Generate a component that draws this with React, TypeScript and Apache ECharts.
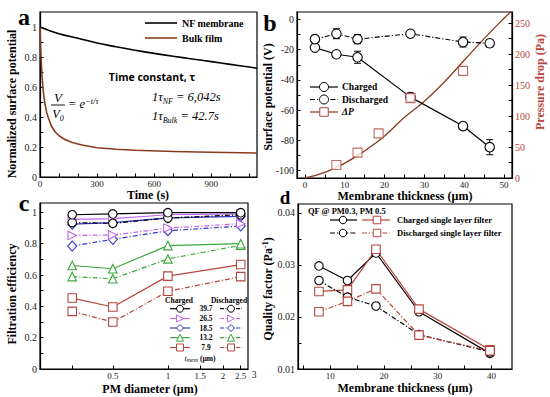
import React, { useEffect, useRef } from 'react';
import * as echarts from 'echarts';

const SERIF = '"Liberation Serif", "Times New Roman", serif';
const SANS = '"Open Sans", "Liberation Sans", sans-serif';
const BROWN = '#8b3a1e';
const RED = '#b8463c';
const DASHDOT = [5, 2, 1.2, 2];

// ---------- Panel a ----------
const nfTime = [0, 100, 200, 300, 400, 500, 600, 700, 800, 900, 1000, 1100, 1140];
const nfValue = [1.0, 0.955, 0.925, 0.893, 0.868, 0.845, 0.824, 0.805, 0.787, 0.769, 0.751, 0.733, 0.725];
const bulkTime = [0, 3, 6, 10, 15, 20, 27, 35, 45, 60, 80, 100, 130, 170, 220, 300, 400, 500, 700, 900, 1140];
const bulkValue = [1.0, 0.88, 0.79, 0.69, 0.6, 0.54, 0.48, 0.43, 0.39, 0.34, 0.3, 0.275, 0.25, 0.23, 0.213, 0.195, 0.185, 0.178, 0.17, 0.165, 0.16];
const aXLabels = [0, 300, 600, 900];
const aYLabels = [0, 0.2, 0.4, 0.6, 0.8, 1];

// ---------- Panel b ----------
const bThickness = [2.5, 7.9, 13.2, 26.5, 39.7, 46.4];
const chargedV = [-18.6, -23, -25, -51.4, -70.6, -84.6];
const chargedErr = [1, 1.5, 4, 2.7, 1.8, 5];
const dischargedV = [-13, -9.4, -13, -9.4, -14.9, -15.7];
const dischargedErr = [2.2, 3.3, 3, 2, 3.3, 2.5];
const dpThickness = [7.9, 13.2, 18.5, 26.5, 39.7];
const dpValue = [21, 41, 72, 129, 173];
const dpFitX = [0, 5, 10, 15, 20, 25, 30, 35, 40, 45, 50, 52];
const dpFitY = [0, 9, 24, 44, 68, 98, 124, 155, 190, 225, 258, 270];
const bXLabels = [0, 10, 20, 30, 40, 50];
const bYLabels = [-100, -80, -60, -40, -20, 0];
const bY2Labels = [0, 50, 100, 150, 200, 250];

// ---------- Panel c ----------
const pmDiameter = [0.3, 0.5, 1, 2.5];
const cXLabels = [0.5, 1, 1.5, 2, 2.5];
const cYLabels = [0, 0.2, 0.4, 0.6, 0.8, 1];
const thicknessNames = ['39.7', '26.5', '18.5', '13.2', '7.9'];
const charged397 = [0.985, 0.99, 0.998, 0.998];
const discharged397 = [0.935, 0.93, 0.964, 0.985];
const charged265 = [0.955, 0.96, 0.985, 0.99];
const discharged265 = [0.853, 0.855, 0.9, 0.928];
const charged185 = [0.925, 0.935, 0.965, 0.975];
const discharged185 = [0.785, 0.828, 0.883, 0.913];
const charged132 = [0.661, 0.64, 0.788, 0.8];
const discharged132 = [0.59, 0.576, 0.703, 0.79];
const charged79 = [0.453, 0.396, 0.593, 0.667];
const discharged79 = [0.368, 0.3, 0.496, 0.59];

// ---------- Panel d ----------
const dThickness = [7.9, 13.2, 18.5, 26.5, 39.7];
const qfChargedPM03 = [0.0298, 0.027, 0.0323, 0.021, 0.013];
const qfChargedPM05 = [0.0249, 0.0252, 0.033, 0.0215, 0.0137];
const qfDischargedPM03 = [0.027, 0.0238, 0.0221, 0.0166, 0.0133];
const qfDischargedPM05 = [0.021, 0.023, 0.0254, 0.0165, 0.0135];
const dXLabels = [10, 20, 30, 40];
const dYLabels = [0.01, 0.02, 0.03, 0.04];

const cColors = ['#000000', '#c266f0', '#3535c8', '#3aa83a', RED];
const cSymbols = ['circle', 'triRight', 'diamond', 'triangle', 'rect'];

const range = (a: number, b: number, step: number) => {
  const out: number[] = [];
  for (let i = 0; a + i * step <= b + 1e-9; i++) out.push(+(a + i * step).toFixed(6));
  return out;
};

const mkAxis = (gridIndex: number, min: number, max: number, labels: number[], ticks: number[], label: any = {}, rest: any = {}) => ({
  type: 'value',
  gridIndex,
  min,
  max,
  axisLine: { show: true, onZero: false, lineStyle: { color: '#000', width: 1.2 } },
  axisTick: { show: true, inside: true, length: 3.5, customValues: ticks, lineStyle: { color: '#000', width: 1 } },
  axisLabel: { show: true, customValues: labels, fontFamily: SERIF, fontSize: 10, color: '#222', margin: 3, ...label },
  splitLine: { show: false },
  ...rest,
});

const errorBar = (params: any, api: any) => {
  const x = api.value(0);
  const p1 = api.coord([x, api.value(1)]);
  const p2 = api.coord([x, api.value(2)]);
  const w = 3.5;
  const st = { stroke: '#000', lineWidth: 1 };
  return {
    type: 'group',
    children: [
      { type: 'line', shape: { x1: p1[0], y1: p1[1], x2: p2[0], y2: p2[1] }, style: st },
      { type: 'line', shape: { x1: p1[0] - w, y1: p1[1], x2: p1[0] + w, y2: p1[1] }, style: st },
      { type: 'line', shape: { x1: p2[0] - w, y1: p2[1], x2: p2[0] + w, y2: p2[1] }, style: st },
    ],
  };
};

const symOf = (k: string) => (k === 'triRight' ? 'triangle' : k);
const rotOf = (k: string) => (k === 'triRight' ? -90 : 0);

const txt = (x: number, y: number, text: string, o: any = {}, rotation = 0) => ({
  type: 'text',
  x,
  y,
  rotation,
  style: {
    text,
    fontFamily: SERIF,
    fontSize: 12.5,
    fontWeight: 'bold',
    fill: '#000',
    align: 'center',
    verticalAlign: 'middle',
    ...o,
  },
});

const gLine = (x1: number, y1: number, x2: number, y2: number, color: string, dash?: number[], w = 1.2) => ({
  type: 'line',
  shape: { x1, y1, x2, y2 },
  style: { stroke: color, lineWidth: w, lineDash: dash || null },
});

const gMarker = (kind: string, cx: number, cy: number, s: number, color: string) => {
  const style = { fill: '#fff', stroke: color, lineWidth: 1 };
  const h = s / 2;
  switch (kind) {
    case 'circle':
      return { type: 'circle', shape: { cx, cy, r: h }, style };
    case 'rect':
      return { type: 'rect', shape: { x: cx - h, y: cy - h, width: s, height: s }, style };
    case 'diamond':
      return { type: 'polygon', shape: { points: [[cx, cy - h], [cx + h, cy], [cx, cy + h], [cx - h, cy]] }, style };
    case 'triangle':
      return { type: 'polygon', shape: { points: [[cx, cy - h], [cx + h, cy + h], [cx - h, cy + h]] }, style };
    default:
      return { type: 'polygon', shape: { points: [[cx + h, cy], [cx - h, cy - h], [cx - h, cy + h]] }, style };
  }
};

export default function App() {
  const ref = useRef<HTMLDivElement>(null);
  useEffect(() => {
    document.body.style.margin = '0';
    if (!ref.current) return;
    const chart = echarts.init(ref.current, undefined, { renderer: 'svg' });

    const gridStyle = { show: true, borderColor: '#000', borderWidth: 1.2, backgroundColor: 'transparent' };
    const lg10 = (v: number) => Math.log10(v);

    const cCharged = [charged397, charged265, charged185, charged132, charged79];
    const cDischarged = [discharged397, discharged265, discharged185, discharged132, discharged79];
    const cSeries: any[] = [];
    for (let k = 4; k >= 0; k--) {
      [cDischarged[k], cCharged[k]].forEach((vals, j) => {
        cSeries.push({
          name: (j === 1 ? 'Charged ' : 'Discharged ') + thicknessNames[k],
          type: 'line',
          xAxisIndex: 2,
          yAxisIndex: 3,
          data: pmDiameter.map((d, i) => [lg10(d), vals[i]]),
          symbol: symOf(cSymbols[k]),
          symbolRotate: rotOf(cSymbols[k]),
          symbolSize: cSymbols[k] === 'diamond' ? [9, 10] : 8.5,
          itemStyle: { color: '#fff', borderColor: cColors[k], borderWidth: 1.1 },
          lineStyle: { color: cColors[k], width: 1.2, type: j === 1 ? 'solid' : DASHDOT },
          z: 3 + (4 - k),
        });
      });
    }

    const dSeries = [
      { name: 'Charged PM0.3', vals: qfChargedPM03, sym: 'circle', col: '#000', dash: false },
      { name: 'Charged PM0.5', vals: qfChargedPM05, sym: 'rect', col: RED, dash: false },
      { name: 'Discharged PM0.3', vals: qfDischargedPM03, sym: 'circle', col: '#000', dash: true },
      { name: 'Discharged PM0.5', vals: qfDischargedPM05, sym: 'rect', col: RED, dash: true },
    ].map((s) => ({
      name: s.name,
      type: 'line',
      xAxisIndex: 3,
      yAxisIndex: 4,
      data: dThickness.map((t, i) => [t, s.vals[i]]),
      symbol: s.sym,
      symbolSize: 8.5,
      itemStyle: { color: '#fff', borderColor: s.col, borderWidth: 1.1 },
      lineStyle: { color: s.col, width: 1.2, type: s.dash ? DASHDOT : 'solid' },
      z: 3,
    }));

    const cLegendRows = [308.7, 318.5, 328, 337.7, 347.5];
    const cLegend: any[] = [
      txt(179, 300, 'Charged', { fontSize: 7.5 }),
      txt(229, 300, 'Discharged', { fontSize: 7.5 }),
    ];
    thicknessNames.forEach((n, k) => {
      const y = cLegendRows[k];
      cLegend.push(gLine(170, y, 190, y, cColors[k]));
      cLegend.push(gMarker(cSymbols[k], 180, y, 7, cColors[k]));
      cLegend.push(txt(206, y, n, { fontSize: 7.5 }));
      cLegend.push(gLine(220, y, 242, y, cColors[k], [4, 1.5, 1, 1.5]));
      cLegend.push(gMarker(cSymbols[k], 231, y, 7, cColors[k]));
    });
    cLegend.push({
      type: 'text',
      x: 200,
      y: 358,
      style: {
        text: '{i|t}{s|mem}{n| (µm)}',
        align: 'center',
        verticalAlign: 'middle',
        rich: {
          i: { fontFamily: SERIF, fontStyle: 'italic', fontSize: 8, lineHeight: 10, verticalAlign: 'middle' },
          s: { fontFamily: SERIF, fontStyle: 'italic', fontSize: 6, lineHeight: 10, verticalAlign: 'bottom' },
          n: { fontFamily: SERIF, fontWeight: 'bold', fontSize: 7.5, lineHeight: 10, verticalAlign: 'middle' },
        },
      },
    });

    const mathRich = {
      n: { fontFamily: SERIF, fontStyle: 'italic', fontSize: 12.5, lineHeight: 16, verticalAlign: 'middle' },
      sub: { fontFamily: SERIF, fontStyle: 'italic', fontSize: 8, lineHeight: 16, verticalAlign: 'bottom' },
      sup: { fontFamily: SERIF, fontStyle: 'italic', fontSize: 8.5, lineHeight: 16, verticalAlign: 'top' },
    };

    const graphic: any[] = [
      // panel letters
      txt(24, 17, 'a', { fontSize: 24 }),
      txt(270, 23, 'b', { fontSize: 24 }),
      txt(24, 203, 'c', { fontSize: 24 }),
      txt(285, 197, 'd', { fontSize: 19 }),
      // axis titles
      txt(12, 104, 'Normalized surface potential', { fontSize: 12 }, Math.PI / 2),
      txt(148, 195, 'Time (s)', { fontSize: 12 }),
      txt(268, 97, 'Surface potential (V)', { fontSize: 12 }, Math.PI / 2),
      txt(540, 82, 'Pressure drop (Pa)', { fontSize: 12, fill: RED }, Math.PI / 2),
      txt(405, 196, 'Membrane thickness (µm)', { fontSize: 12 }),
      txt(12, 294, 'Filtration efficiency', { fontSize: 12 }, Math.PI / 2),
      txt(150, 389, 'PM diameter (µm)', { fontSize: 12 }),
      {
        type: 'text',
        x: 268,
        y: 289,
        rotation: Math.PI / 2,
        style: {
          text: '{n|Quality factor (Pa}{s|-1}{n|)}',
          align: 'center',
          verticalAlign: 'middle',
          rich: {
            n: { fontFamily: SERIF, fontWeight: 'bold', fontSize: 12, lineHeight: 14, verticalAlign: 'middle' },
            s: { fontFamily: SERIF, fontWeight: 'bold', fontSize: 8, lineHeight: 14, verticalAlign: 'top' },
          },
        },
      },
      txt(405, 388, 'Membrane thickness (µm)', { fontSize: 12 }),
      txt(254, 375, '3', { fontSize: 9.5, fontWeight: 'normal', fill: '#222' }),
      // panel a legend
      gLine(145, 23, 177, 23, '#000', undefined, 1.6),
      txt(182, 23, 'NF membrane', { fontSize: 10, align: 'left' }),
      gLine(145, 38, 177, 38, BROWN, undefined, 1.6),
      txt(182, 38, 'Bulk film', { fontSize: 10, align: 'left' }),
      // panel a annotations
      txt(152, 77, 'Time constant, τ', { fontFamily: SANS, fontSize: 10.5 }),
      txt(58, 97, 'V', { fontWeight: 'normal', fontStyle: 'italic', fontSize: 13 }),
      gLine(51, 105, 65, 105, '#000', undefined, 0.9),
      {
        type: 'text',
        x: 58,
        y: 114,
        style: { text: '{n|V}{sub|0}', align: 'center', verticalAlign: 'middle', rich: mathRich },
      },
      {
        type: 'text',
        x: 68,
        y: 104,
        style: { text: '{n|= e}{sup|−t/τ}', align: 'left', verticalAlign: 'middle', rich: mathRich },
      },
      {
        type: 'text',
        x: 152,
        y: 97,
        style: { text: '{n|1τ}{sub|NF}{n| = 6,042s}', align: 'left', verticalAlign: 'middle', rich: mathRich },
      },
      {
        type: 'text',
        x: 152,
        y: 116,
        style: { text: '{n|1τ}{sub|Bulk}{n| = 42.7s}', align: 'left', verticalAlign: 'middle', rich: mathRich },
      },
      // panel b legend
      gLine(310, 87, 338, 87, '#000'),
      gMarker('circle', 324, 87, 9, '#000'),
      txt(342, 87, 'Charged', { fontSize: 9.5, align: 'left' }),
      gLine(310, 99.5, 338, 99.5, '#000', DASHDOT),
      gMarker('circle', 324, 99.5, 9, '#000'),
      txt(342, 99.5, 'Discharged', { fontSize: 9.5, align: 'left' }),
      gLine(310, 112, 338, 112, BROWN),
      gMarker('rect', 324, 112, 8.5, RED),
      txt(342, 112, 'ΔP', { fontSize: 9.5, align: 'left', fontStyle: 'italic' }),
      // panel d legend
      txt(308, 211, 'QF @ PM0.3, PM 0.5', { fontSize: 8.5, align: 'left' }),
      gLine(330, 220, 357, 220, '#000'),
      gMarker('circle', 343, 220, 7.5, '#000'),
      gLine(362, 220, 390, 220, RED),
      gMarker('rect', 377, 220, 7.5, RED),
      txt(397, 220, 'Charged single layer filter', { fontSize: 8.5, align: 'left' }),
      gLine(330, 233, 357, 233, '#000', DASHDOT),
      gMarker('circle', 343, 233, 7.5, '#000'),
      gLine(362, 233, 390, 233, RED, DASHDOT),
      gMarker('rect', 377, 233, 7.5, RED),
      txt(397, 233, 'Discharged single layer filter', { fontSize: 8.5, align: 'left' }),
      ...cLegend,
    ];

    const xLab = { margin: 2, fontSize: 9 };

    const option: any = {
      animation: false,
      backgroundColor: '#fff',
      grid: [
        { left: 40, top: 12, width: 217, height: 165, ...gridStyle },
        { left: 297, top: 12, width: 215, height: 166, ...gridStyle },
        { left: 40, top: 203, width: 208, height: 166, ...gridStyle },
        { left: 298, top: 204, width: 214, height: 165, ...gridStyle },
      ],
      xAxis: [
        mkAxis(0, 0, 1140, aXLabels, range(0, 1100, 100), xLab),
        mkAxis(1, -2, 52, bXLabels, range(0, 50, 5), xLab),
        mkAxis(2, lg10(0.2), lg10(2.74), cXLabels.map(lg10), [0.3, 0.5, 1, 1.5, 2, 2.5].map(lg10), {
          ...xLab,
          formatter: (v: number) => String(Math.round(Math.pow(10, v) * 10) / 10),
        }),
        mkAxis(3, 4, 43.8, dXLabels, range(5, 40, 5), xLab),
      ],
      yAxis: [
        mkAxis(0, 0, 1.1, aYLabels, range(0, 1, 0.1)),
        mkAxis(1, -105, 5, bYLabels, range(-100, 0, 10)),
        mkAxis(1, 0, 268, bY2Labels, range(0, 250, 25), { color: RED }, { position: 'right' }),
        mkAxis(2, 0, 1.06, cYLabels, range(0, 1, 0.1)),
        mkAxis(3, 0.01, 0.0417, dYLabels, range(0.01, 0.04, 0.005), {
          formatter: (v: number) => v.toFixed(2),
        }),
      ],
      series: [
        {
          name: 'NF membrane',
          type: 'line',
          xAxisIndex: 0,
          yAxisIndex: 0,
          data: nfTime.map((t, i) => [t, nfValue[i]]),
          smooth: 0.4,
          symbol: 'none',
          lineStyle: { color: '#000', width: 1.6 },
        },
        {
          name: 'Bulk film',
          type: 'line',
          xAxisIndex: 0,
          yAxisIndex: 0,
          data: bulkTime.map((t, i) => [t, bulkValue[i]]),
          smooth: false,
          symbol: 'none',
          lineStyle: { color: BROWN, width: 1.6, join: 'round' },
        },
        {
          name: 'ΔP fit',
          type: 'line',
          xAxisIndex: 1,
          yAxisIndex: 2,
          data: dpFitX.map((t, i) => [t, dpFitY[i]]),
          smooth: true,
          symbol: 'none',
          lineStyle: { color: BROWN, width: 1.3 },
          z: 1,
        },
        {
          type: 'custom',
          xAxisIndex: 1,
          yAxisIndex: 1,
          data: bThickness.map((t, i) => [t, chargedV[i] - chargedErr[i], chargedV[i] + chargedErr[i]]),
          encode: { x: 0, y: [1, 2] },
          renderItem: errorBar,
          silent: true,
          z: 2,
        },
        {
          type: 'custom',
          xAxisIndex: 1,
          yAxisIndex: 1,
          data: bThickness.map((t, i) => [t, dischargedV[i] - dischargedErr[i], dischargedV[i] + dischargedErr[i]]),
          encode: { x: 0, y: [1, 2] },
          renderItem: errorBar,
          silent: true,
          z: 2,
        },
        {
          name: 'Charged',
          type: 'line',
          xAxisIndex: 1,
          yAxisIndex: 1,
          data: bThickness.map((t, i) => [t, chargedV[i]]),
          symbol: 'circle',
          symbolSize: 9.5,
          itemStyle: { color: '#fff', borderColor: '#000', borderWidth: 1.1 },
          lineStyle: { color: '#000', width: 1.2 },
          z: 3,
        },
        {
          name: 'Discharged',
          type: 'line',
          xAxisIndex: 1,
          yAxisIndex: 1,
          data: bThickness.map((t, i) => [t, dischargedV[i]]),
          symbol: 'circle',
          symbolSize: 9.5,
          itemStyle: { color: '#fff', borderColor: '#000', borderWidth: 1.1 },
          lineStyle: { color: '#000', width: 1.1, type: DASHDOT },
          z: 3,
        },
        {
          name: 'ΔP',
          type: 'scatter',
          xAxisIndex: 1,
          yAxisIndex: 2,
          data: dpThickness.map((t, i) => [t, dpValue[i]]),
          symbol: 'rect',
          symbolSize: 9,
          itemStyle: { color: '#fff', borderColor: RED, borderWidth: 1.1 },
          z: 3,
        },
        ...cSeries,
        ...dSeries,
      ],
      graphic,
    };

    chart.setOption(option);
    return () => chart.dispose();
  }, []);

  return <div ref={ref} style={{ width: 550, height: 397 }} />;
}
